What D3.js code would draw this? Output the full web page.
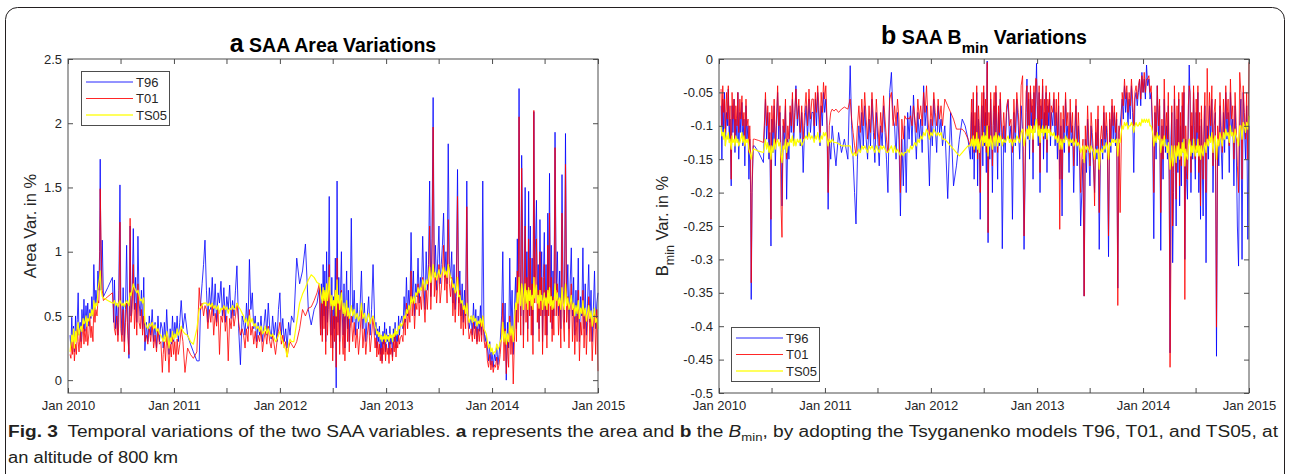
<!DOCTYPE html>
<html>
<head>
<meta charset="utf-8">
<script src="https://cdn.jsdelivr.net/npm/d3@7"></script>
<style>
  html, body { margin: 0; padding: 0; background: #fff; }
  svg { display: block; }
</style>
</head>
<body>
<script>
// DATA (days after 1 Jan 2010, one row of segments per line)

var days = [
  7,10,13,16,19,22,26,29,32,35,38,42,45,48,52,55,58,62,65,68,72,75,79,82,86,89,93,96,100,103,
  106,109,111,114,118,
  122,137,153,
  157,160,164,168,172,175,179,182,186,190,194,198,202,206,210,214,217,221,225,229,233,237,241,245,249,253,257,261,
  265,270,275,280,285,290,295,300,305,310,315,320,
  325,328,332,336,340,344,348,352,356,360,364,368,372,376,380,385,390,396,403,412,422,432,444,
  452,457,462,467,472,477,482,487,492,497,502,507,512,517,522,527,532,537,542,547,552,557,562,567,572,577,582,588,594,600,
  605,610,615,620,625,630,635,640,645,650,655,660,665,670,675,680,685,690,695,700,705,710,715,720,725,730,735,740,745,750,755,760,765,770,
  778,788,798,808,818,828,838,848,858,866,
  870,873,876,879,882,885,888,891,894,897,900,903,906,909,912,915,918,921,924,927,930,933,936,939,942,945,948,951,954,957,960,963,966,969,972,
  976,981,986,991,996,1001,1006,1011,1016,1021,1026,1031,1036,1041,1046,1051,
  1058,1061,1064,1067,1070,1073,1076,1079,1082,1085,1088,1091,1094,1097,1100,1103,1106,1109,1112,1115,1118,1121,1124,1127,1130,1133,1136,1139,1142,1145,
  1150,1154,1158,1162,1166,1170,1174,1178,1182,1186,1190,1194,1198,1202,1206,1210,1214,1218,1222,1226,1230,1234,1238,1242,1246,1250,1254,1258,1262,1266,1270,1274,1278,1282,1286,1290,1294,1298,1302,1306,1310,1314,
  1318,1322,1326,1330,1334,1338,1342,1346,1350,1354,1358,1362,1366,1370,1374,1378,1382,
  1389,1393,1397,1401,1405,1409,1413,1417,1421,1425,1429,1433,1437,1441,
  1445,1449,1453,1457,1461,1465,1469,1473,1477,1481,1485,1489,
  1494,1498,1502,1506,1510,1514,1518,1522,1526,1530,1534,1538,
  1542,1545,1548,1551,1554,1557,1560,1563,1566,1569,1572,1575,1578,1581,1584,1587,1590,1593,1596,1599,1602,1605,1608,1611,1614,1617,1620,1623,1626,1629,1632,1635,1638,1641,1644,1647,1650,1653,1656,1659,1662,1665,1668,1671,1674,
  1678,1682,1686,1690,1694,1698,1702,1706,1710,1714,1718,1722,1726,1730,1734,1738,1742,1746,1750,1754,1758,1762,1766,1770,1774,1778,1782,1786,1790,1794,1798,1802,1806,1810,1814,1818,1822,1826
];

var areaT96 = [
  0.35,0.25,0.49,0.3,0.42,0.22,0.5,0.3,0.47,0.68,0.35,0.45,0.3,0.55,0.4,0.63,0.38,0.58,0.45,0.6,0.42,0.55,0.48,0.65,0.5,0.9,0.55,0.7,0.6,0.85,
  0.7,1.0,1.72,0.7,1.09,
  0.65,0.72,0.8,
  0.45,0.78,0.4,0.6,0.35,0.7,1.52,0.6,0.35,0.72,0.3,0.55,1.05,0.45,0.17,1.2,0.5,0.65,1.18,0.55,0.8,0.45,1.12,0.6,0.5,0.7,0.4,0.8,
  0.23,0.45,0.3,0.5,0.35,0.55,0.3,0.45,0.25,0.5,0.3,0.45,
  0.4,0.25,0.45,0.3,0.55,0.35,0.2,0.4,0.28,0.5,0.3,0.45,0.35,0.5,0.3,0.45,0.62,0.4,0.52,0.35,0.28,0.22,0.15,
  0.15,0.6,0.75,0.9,1.09,0.7,0.45,0.72,0.55,0.8,0.5,0.75,0.45,0.68,0.6,0.77,0.5,0.72,0.45,0.65,0.55,0.74,0.48,0.62,0.5,0.7,0.89,0.4,0.12,0.5,
  0.45,0.35,0.6,0.4,0.94,0.55,0.68,0.4,0.5,0.3,0.45,0.35,0.5,0.3,0.42,0.55,0.35,0.6,0.4,0.32,0.5,0.35,0.45,0.3,0.55,0.68,0.35,0.48,0.3,0.4,0.25,0.45,0.35,0.5,
  0.45,0.95,0.75,0.85,1.06,0.55,0.43,0.55,0.6,0.72,
  0.4,0.75,0.35,0.9,0.5,0.85,0.3,1.0,0.45,0.7,1.43,0.55,0.35,0.8,0.25,0.65,0.4,0.95,-0.06,1.55,0.45,0.8,0.3,0.7,1.0,0.5,0.35,0.75,0.25,0.6,0.85,0.4,0.7,0.3,0.55,
  1.26,0.45,0.7,0.35,0.6,0.4,0.55,0.85,0.4,0.6,0.3,0.5,0.65,0.35,0.55,0.9,
  0.35,0.45,0.25,0.4,0.3,0.42,0.2,0.35,0.15,0.38,0.28,0.45,0.22,0.4,0.3,0.35,0.2,0.42,0.28,0.33,0.18,0.4,0.3,0.45,0.25,0.38,0.3,0.5,0.35,0.45,
  0.5,0.4,0.65,0.45,0.8,0.5,0.7,0.55,1.15,0.6,0.85,0.5,0.75,0.65,0.95,0.6,0.8,0.7,1.12,0.75,0.55,1.0,0.7,0.9,1.55,0.65,1.1,2.2,0.8,1.05,0.7,0.95,1.2,0.75,0.9,1.05,1.3,0.8,1.0,0.75,1.84,0.9,
  0.8,1.0,0.6,0.9,0.55,0.8,1.64,0.6,0.85,0.5,0.75,0.45,0.7,0.5,1.55,0.55,0.4,
  0.5,0.35,0.6,0.4,0.55,0.3,0.5,0.38,0.58,0.35,1.55,0.4,0.3,0.35,
  0.25,0.15,0.3,0.12,0.22,0.1,0.2,0.15,0.28,0.12,0.2,0.3,
  0.5,1.0,0.3,0.6,0.0,0.45,0.25,0.95,0.4,0.7,0.2,0.55,
  0.8,0.4,1.1,0.6,2.27,0.9,0.5,1.75,1.2,0.35,0.85,1.5,0.6,1.0,0.4,1.47,0.7,1.2,0.5,0.95,0.35,2.09,0.8,1.1,1.4,0.6,0.9,0.4,1.25,0.7,1.0,0.3,0.8,1.15,0.5,0.9,0.35,1.3,0.7,1.61,0.6,1.05,0.4,0.85,0.5,
  1.93,0.7,1.0,0.5,0.85,0.4,1.6,0.7,0.45,1.92,0.6,0.9,0.4,0.75,1.03,0.5,0.8,0.35,0.7,0.45,0.95,0.3,0.65,0.5,1.03,0.4,0.75,0.35,0.6,0.9,0.45,0.7,0.3,0.55,0.85,0.4,0.6,0.68
];

var areaT01 = [
  0.2,0.17,0.3,0.2,0.35,0.15,0.28,0.2,0.4,0.3,0.22,0.38,0.25,0.33,0.45,0.28,0.4,0.3,0.44,0.27,0.36,0.5,0.33,0.42,0.3,0.58,0.45,0.55,0.5,0.62,
  0.6,0.8,1.49,1.05,0.7,
  0.62,0.65,0.68,
  0.55,0.4,0.35,0.5,0.3,0.45,1.23,0.4,0.3,0.55,0.22,0.45,0.6,0.35,0.2,1.26,0.45,0.55,0.9,0.4,0.6,0.35,0.75,0.45,0.4,0.55,0.35,0.5,
  0.3,0.35,0.28,0.4,0.3,0.45,0.25,0.35,0.22,0.4,0.28,0.3,
  0.06,0.2,0.3,0.15,0.35,0.25,0.06,0.28,0.18,0.35,0.2,0.3,0.15,0.32,0.2,0.28,0.4,0.3,0.06,0.25,0.2,0.17,0.22,
  0.72,0.55,0.6,0.5,0.58,0.55,0.4,0.55,0.45,0.6,0.35,0.52,0.42,0.55,0.2,0.5,0.45,0.58,0.38,0.5,0.15,0.48,0.4,0.55,0.42,0.5,0.6,0.45,0.35,0.4,
  0.35,0.25,0.4,0.3,0.55,0.35,0.42,0.28,0.38,0.25,0.35,0.3,0.4,0.22,0.32,0.38,0.28,0.42,0.3,0.25,0.35,0.28,0.2,0.3,0.38,0.45,0.28,0.35,0.25,0.3,0.18,0.25,0.3,0.28,
  0.25,0.3,0.4,0.55,0.5,0.56,0.57,0.62,0.68,0.75,
  0.35,0.6,0.3,0.7,0.4,0.65,0.2,0.75,0.35,0.55,0.9,0.45,0.25,0.6,0.15,0.5,0.3,0.7,0.1,0.95,0.35,0.6,0.2,0.5,0.7,0.35,0.2,0.55,0.15,0.45,0.6,0.3,0.5,0.22,0.4,
  0.5,0.3,0.45,0.25,0.4,0.2,0.35,0.55,0.25,0.4,0.2,0.35,0.45,0.22,0.35,0.5,
  0.25,0.33,0.18,0.3,0.2,0.28,0.15,0.25,0.13,0.3,0.2,0.32,0.15,0.28,0.2,0.25,0.13,0.3,0.2,0.25,0.15,0.3,0.22,0.35,0.18,0.3,0.25,0.35,0.28,0.33,
  0.35,0.3,0.5,0.35,0.6,0.4,0.55,0.45,0.85,0.5,0.65,0.4,0.6,0.55,0.75,0.5,0.65,0.55,0.8,0.6,0.45,0.7,0.55,0.75,1.2,0.55,0.85,1.97,0.65,0.8,0.6,0.75,0.9,0.6,0.7,0.85,1.05,0.7,0.85,0.6,1.25,0.75,
  0.65,0.8,0.5,0.7,0.45,0.65,1.43,0.5,0.7,0.4,0.6,0.35,0.55,0.4,1.35,0.45,0.32,
  0.4,0.3,0.45,0.32,0.42,0.28,0.4,0.3,0.45,0.3,0.5,0.32,0.25,0.3,
  0.15,0.1,0.2,0.08,0.15,0.06,0.12,0.1,0.18,0.08,0.12,0.2,
  0.35,0.6,0.15,0.4,0.05,0.3,0.1,0.5,0.2,0.4,-0.03,0.3,
  0.6,0.3,0.85,0.45,2.05,0.7,0.35,1.65,0.95,0.25,0.65,1.2,0.45,0.8,0.3,1.1,0.5,0.95,0.35,0.75,0.2,2.1,0.6,0.85,1.1,0.45,0.7,0.3,1.0,0.5,0.8,0.2,0.6,0.9,0.35,0.7,0.25,1.05,0.5,1.3,0.45,0.8,0.3,0.65,0.35,
  1.81,0.5,0.75,0.35,0.6,0.25,1.3,0.5,0.3,1.68,0.45,0.65,0.25,0.55,0.75,0.3,0.6,0.2,0.5,0.3,0.7,0.15,0.45,0.35,0.7,0.25,0.55,0.2,0.45,0.65,0.3,0.5,0.15,0.4,0.55,0.2,0.55,0.07
];

var areaTS05 = [
  0.22,0.28,0.35,0.3,0.4,0.25,0.38,0.3,0.42,0.45,0.35,0.4,0.42,0.38,0.48,0.44,0.45,0.5,0.42,0.48,0.46,0.52,0.5,0.55,0.5,0.62,0.55,0.6,0.58,0.7,
  0.75,0.8,0.85,0.7,0.65,
  0.64,0.62,0.6,
  0.6,0.62,0.58,0.6,0.57,0.6,0.62,0.6,0.58,0.6,0.57,0.6,0.62,0.6,0.58,0.68,0.66,0.7,0.75,0.72,0.7,0.68,0.7,0.66,0.62,0.63,0.6,0.64,
  0.45,0.42,0.4,0.44,0.42,0.45,0.4,0.43,0.38,0.4,0.36,0.35,
  0.32,0.3,0.35,0.3,0.38,0.34,0.25,0.33,0.3,0.38,0.32,0.36,0.33,0.4,0.35,0.38,0.42,0.38,0.36,0.35,0.3,0.28,0.4,
  0.55,0.57,0.58,0.6,0.6,0.6,0.58,0.6,0.57,0.6,0.56,0.58,0.55,0.58,0.52,0.56,0.55,0.58,0.55,0.57,0.52,0.56,0.55,0.58,0.55,0.56,0.6,0.57,0.55,0.52,
  0.5,0.45,0.48,0.42,0.5,0.45,0.48,0.42,0.44,0.4,0.42,0.38,0.42,0.36,0.38,0.42,0.36,0.4,0.36,0.34,0.36,0.33,0.3,0.32,0.35,0.38,0.32,0.3,0.26,0.24,0.18,0.28,0.32,0.3,
  0.3,0.45,0.6,0.67,0.72,0.78,0.82,0.8,0.76,0.75,
  0.7,0.65,0.6,0.72,0.62,0.7,0.58,0.75,0.62,0.68,0.8,0.65,0.58,0.66,0.55,0.62,0.58,0.7,0.5,0.78,0.6,0.66,0.55,0.62,0.68,0.58,0.52,0.6,0.5,0.55,0.62,0.5,0.56,0.48,0.52,
  0.58,0.5,0.55,0.48,0.52,0.46,0.5,0.6,0.48,0.52,0.45,0.48,0.52,0.44,0.48,0.5,
  0.42,0.4,0.36,0.38,0.34,0.37,0.32,0.35,0.3,0.34,0.32,0.36,0.3,0.35,0.32,0.34,0.3,0.36,0.33,0.35,0.3,0.36,0.34,0.4,0.35,0.38,0.36,0.42,0.4,0.44,
  0.42,0.45,0.5,0.48,0.55,0.52,0.58,0.55,0.65,0.6,0.65,0.6,0.68,0.66,0.72,0.68,0.72,0.7,0.78,0.75,0.7,0.78,0.75,0.8,0.88,0.76,0.82,0.9,0.8,0.84,0.78,0.82,0.86,0.8,0.82,0.85,0.88,0.82,0.85,0.8,0.9,0.85,
  0.8,0.78,0.72,0.75,0.68,0.7,0.8,0.65,0.66,0.6,0.62,0.55,0.58,0.52,0.6,0.5,0.45,
  0.5,0.45,0.5,0.46,0.48,0.42,0.46,0.44,0.48,0.42,0.5,0.4,0.38,0.36,
  0.3,0.25,0.28,0.22,0.25,0.2,0.22,0.22,0.28,0.24,0.26,0.3,
  0.32,0.45,0.3,0.38,0.28,0.36,0.3,0.45,0.35,0.42,0.3,0.45,
  0.6,0.55,0.68,0.6,0.8,0.66,0.58,0.75,0.7,0.55,0.65,0.75,0.6,0.7,0.55,0.72,0.62,0.7,0.58,0.66,0.55,0.8,0.64,0.7,0.74,0.6,0.66,0.56,0.7,0.62,0.66,0.55,0.62,0.68,0.58,0.64,0.55,0.7,0.6,0.72,0.58,0.65,0.55,0.62,0.56,
  0.75,0.62,0.68,0.58,0.64,0.55,0.72,0.6,0.55,0.75,0.58,0.64,0.55,0.6,0.66,0.55,0.6,0.5,0.58,0.52,0.62,0.48,0.56,0.52,0.62,0.5,0.56,0.46,0.52,0.58,0.48,0.54,0.42,0.5,0.56,0.45,0.48,0.4
];

var bminT96 = [
  -0.07,-0.15,-0.06,-0.11,-0.05,-0.13,-0.08,-0.1,-0.045,-0.12,-0.09,-0.19,-0.07,-0.11,-0.06,-0.14,-0.09,-0.12,-0.05,-0.15,-0.08,-0.11,-0.065,-0.13,-0.09,-0.16,-0.07,-0.12,-0.1,-0.18,
  -0.12,-0.2,-0.36,-0.2,-0.13,
  -0.13,-0.14,-0.155,
  -0.1,-0.06,-0.12,-0.08,-0.15,-0.11,-0.28,-0.09,-0.14,-0.07,-0.16,-0.1,-0.05,-0.12,-0.08,-0.14,-0.22,-0.1,-0.13,-0.07,-0.21,-0.12,-0.15,-0.08,-0.11,-0.06,-0.13,-0.09,
  -0.04,-0.1,-0.07,-0.13,-0.08,-0.17,-0.1,-0.07,-0.12,-0.06,-0.11,-0.08,
  -0.08,-0.12,-0.06,-0.1,-0.05,-0.09,-0.13,-0.07,-0.1,-0.05,-0.08,-0.06,-0.1,-0.225,-0.12,-0.15,-0.1,-0.13,-0.16,-0.11,-0.14,-0.12,-0.15,
  -0.01,-0.1,-0.15,-0.2,-0.247,-0.15,-0.1,-0.14,-0.08,-0.13,-0.07,-0.12,-0.15,-0.09,-0.13,-0.06,-0.11,-0.155,-0.08,-0.12,-0.16,-0.1,-0.13,-0.07,-0.11,-0.15,-0.2,-0.05,-0.02,-0.09,
  -0.1,-0.15,-0.08,-0.12,-0.235,-0.12,-0.19,-0.1,-0.2,-0.08,-0.12,-0.07,-0.13,-0.054,-0.1,-0.15,-0.08,-0.12,-0.09,-0.14,-0.04,-0.1,-0.07,-0.12,-0.19,-0.09,-0.13,-0.06,-0.1,-0.14,-0.07,-0.11,-0.09,-0.13,
  -0.1,-0.209,-0.08,-0.19,-0.16,-0.12,-0.09,-0.1,-0.12,-0.15,
  -0.08,-0.15,-0.06,-0.18,-0.1,-0.14,-0.05,-0.19,-0.09,-0.12,-0.24,-0.11,-0.07,-0.16,-0.05,-0.13,-0.08,-0.17,-0.003,-0.275,-0.1,-0.15,-0.06,-0.12,-0.2,-0.1,-0.07,-0.14,-0.05,-0.11,-0.18,-0.08,-0.13,-0.06,-0.11,
  -0.284,-0.1,-0.14,-0.08,-0.062,-0.12,-0.1,-0.24,-0.08,-0.13,-0.06,-0.1,-0.15,-0.07,-0.11,-0.285,
  -0.08,-0.03,-0.12,-0.06,-0.15,-0.05,-0.1,-0.07,-0.18,-0.05,-0.11,-0.06,-0.0065,-0.09,-0.13,-0.05,-0.2,-0.07,-0.11,-0.04,-0.15,-0.08,-0.12,-0.05,-0.17,-0.07,-0.1,-0.06,-0.13,-0.08,
  -0.1,-0.06,-0.13,-0.08,-0.15,-0.07,-0.18,-0.1,-0.235,-0.09,-0.14,-0.06,-0.12,-0.1,-0.17,-0.08,-0.13,-0.1,-0.2,-0.12,-0.07,-0.16,-0.1,-0.14,-0.25,-0.2,-0.15,-0.355,-0.12,-0.17,-0.09,-0.14,-0.19,-0.1,-0.13,-0.16,-0.2,-0.11,-0.15,-0.09,-0.285,-0.14,
  -0.12,-0.15,-0.08,-0.14,-0.1,-0.13,-0.296,-0.09,-0.14,-0.07,-0.12,-0.08,-0.13,-0.09,-0.343,-0.11,-0.1,
  -0.06,-0.09,-0.04,-0.08,-0.05,-0.1,-0.06,-0.09,-0.04,-0.08,-0.17,-0.06,-0.05,-0.07,
  -0.05,-0.03,-0.07,-0.02,-0.05,-0.03,-0.06,-0.009,-0.04,-0.03,-0.06,-0.05,
  -0.12,-0.269,-0.08,-0.15,-0.04,-0.12,-0.07,-0.2865,-0.1,-0.18,-0.06,-0.14,
  -0.1,-0.15,-0.07,-0.18,-0.44,-0.12,-0.08,-0.305,-0.2,-0.06,-0.13,-0.25,-0.09,-0.17,-0.06,-0.22,-0.1,-0.19,-0.07,-0.14,-0.05,-0.3,-0.12,-0.18,-0.21,-0.09,-0.009,-0.06,-0.2,-0.1,-0.15,-0.05,-0.12,-0.18,-0.08,-0.14,-0.05,-0.2,-0.1,-0.24,-0.09,-0.16,-0.235,-0.12,-0.07,
  -0.305,-0.1,-0.15,-0.07,-0.12,-0.06,-0.2,-0.1,-0.08,-0.445,-0.12,-0.16,-0.07,-0.13,-0.18,-0.08,-0.14,-0.05,-0.12,-0.08,-0.17,-0.05,-0.11,-0.09,-0.19,-0.07,-0.13,-0.25,-0.31,-0.1,-0.06,-0.3,-0.05,-0.1,-0.15,-0.07,-0.27,-0.1
];

var bminT01 = [
  -0.045,-0.1,-0.04,-0.08,-0.06,-0.11,-0.05,-0.09,-0.04,-0.1,-0.07,-0.18,-0.05,-0.09,-0.06,-0.12,-0.07,-0.1,-0.05,-0.11,-0.06,-0.09,-0.055,-0.1,-0.08,-0.13,-0.06,-0.1,-0.09,-0.14,
  -0.1,-0.15,-0.335,-0.19,-0.12,
  -0.12,-0.122,-0.125,
  -0.09,-0.05,-0.1,-0.07,-0.12,-0.08,-0.24,-0.07,-0.11,-0.06,-0.13,-0.09,-0.04,-0.1,-0.07,-0.225,-0.267,-0.09,-0.11,-0.06,-0.15,-0.1,-0.12,-0.07,-0.1,-0.05,-0.11,-0.08,
  -0.045,-0.09,-0.06,-0.11,-0.07,-0.12,-0.08,-0.05,-0.1,-0.045,-0.09,-0.06,
  -0.06,-0.1,-0.05,-0.08,-0.04,-0.07,-0.11,-0.05,-0.08,-0.035,-0.06,-0.04,-0.09,-0.2,-0.1,-0.08,-0.075,-0.078,-0.075,-0.08,-0.075,-0.072,-0.075,
  -0.06,-0.09,-0.11,-0.13,-0.145,-0.1,-0.07,-0.11,-0.06,-0.1,-0.05,-0.09,-0.12,-0.07,-0.11,-0.05,-0.09,-0.12,-0.06,-0.1,-0.13,-0.08,-0.11,-0.055,-0.09,-0.12,-0.14,-0.06,-0.05,-0.1,
  -0.07,-0.1,-0.06,-0.09,-0.2,-0.09,-0.12,-0.085,-0.09,-0.088,-0.09,-0.085,-0.1,-0.07,-0.09,-0.11,-0.06,-0.09,-0.07,-0.1,-0.05,-0.08,-0.04,-0.09,-0.12,-0.07,-0.1,-0.05,-0.08,-0.1,-0.06,-0.09,-0.07,-0.1,
  -0.06,-0.07,-0.08,-0.09,-0.105,-0.105,-0.105,-0.11,-0.12,-0.13,
  -0.06,-0.12,-0.05,-0.14,-0.08,-0.12,-0.04,-0.15,-0.07,-0.1,-0.2,-0.09,-0.05,-0.13,-0.04,-0.1,-0.06,-0.14,-0.005,-0.26,-0.08,-0.12,-0.05,-0.1,-0.16,-0.08,-0.05,-0.12,-0.04,-0.09,-0.14,-0.07,-0.11,-0.05,-0.09,
  -0.12,-0.08,-0.12,-0.07,-0.06,-0.1,-0.09,-0.14,-0.06,-0.11,-0.05,-0.08,-0.12,-0.04,-0.025,-0.265,
  -0.05,-0.04,-0.1,-0.05,-0.12,-0.04,-0.08,-0.06,-0.14,-0.04,-0.09,-0.029,-0.03,-0.07,-0.11,-0.04,-0.17,-0.06,-0.09,-0.03,-0.12,-0.06,-0.1,-0.04,-0.14,-0.06,-0.08,-0.05,-0.11,-0.07,
  -0.08,-0.05,-0.1,-0.06,-0.12,-0.05,-0.255,-0.08,-0.18,-0.07,-0.11,-0.05,-0.1,-0.08,-0.14,-0.06,-0.11,-0.08,-0.16,-0.1,-0.06,-0.13,-0.08,-0.12,-0.2,-0.15,-0.12,-0.355,-0.1,-0.14,-0.07,-0.12,-0.16,-0.08,-0.11,-0.14,-0.22,-0.09,-0.13,-0.07,-0.23,-0.12,
  -0.1,-0.13,-0.07,-0.12,-0.08,-0.11,-0.265,-0.08,-0.12,-0.06,-0.1,-0.07,-0.11,-0.08,-0.369,-0.1,-0.23,
  -0.05,-0.07,-0.03,-0.06,-0.04,-0.08,-0.05,-0.07,-0.03,-0.06,-0.1,-0.05,-0.04,-0.06,
  -0.04,-0.03,-0.06,-0.025,-0.05,-0.02,-0.05,-0.03,-0.03,-0.025,-0.05,-0.04,
  -0.1,-0.2,-0.07,-0.12,-0.04,-0.1,-0.06,-0.23,-0.09,-0.15,-0.03,-0.12,
  -0.08,-0.12,-0.05,-0.15,-0.4615,-0.295,-0.07,-0.25,-0.17,-0.04,-0.1,-0.21,-0.07,-0.14,-0.05,-0.19,-0.08,-0.16,-0.05,-0.12,-0.04,-0.36,-0.1,-0.15,-0.18,-0.07,-0.04,-0.05,-0.17,-0.08,-0.12,-0.04,-0.1,-0.15,-0.06,-0.11,-0.04,-0.17,-0.08,-0.22,-0.07,-0.13,-0.18,-0.09,-0.05,
  -0.2,-0.014,-0.12,-0.05,-0.1,-0.04,-0.16,-0.08,-0.06,-0.4015,-0.1,-0.13,-0.05,-0.1,-0.14,-0.06,-0.11,-0.04,-0.09,-0.06,-0.13,-0.03,-0.09,-0.07,-0.15,-0.05,-0.1,-0.16,-0.2,-0.02,-0.05,-0.18,-0.04,-0.08,-0.12,-0.05,-0.15,-0.005
];

var bminTS05 = [
  -0.1,-0.115,-0.11,-0.12,-0.105,-0.13,-0.115,-0.12,-0.11,-0.125,-0.12,-0.135,-0.115,-0.125,-0.12,-0.13,-0.115,-0.125,-0.12,-0.13,-0.125,-0.12,-0.11,-0.125,-0.115,-0.13,-0.12,-0.125,-0.12,-0.135,
  -0.14,-0.145,-0.15,-0.14,-0.135,
  -0.135,-0.138,-0.14,
  -0.13,-0.12,-0.135,-0.125,-0.14,-0.13,-0.15,-0.13,-0.14,-0.12,-0.135,-0.125,-0.12,-0.13,-0.125,-0.145,-0.155,-0.13,-0.135,-0.12,-0.14,-0.125,-0.13,-0.12,-0.125,-0.115,-0.13,-0.12,
  -0.13,-0.12,-0.125,-0.12,-0.13,-0.125,-0.12,-0.115,-0.12,-0.11,-0.12,-0.115,
  -0.12,-0.125,-0.115,-0.12,-0.11,-0.12,-0.125,-0.115,-0.12,-0.11,-0.115,-0.11,-0.12,-0.13,-0.12,-0.125,-0.12,-0.125,-0.125,-0.127,-0.13,-0.13,-0.13,
  -0.13,-0.14,-0.145,-0.14,-0.145,-0.14,-0.135,-0.14,-0.13,-0.135,-0.13,-0.135,-0.14,-0.13,-0.135,-0.13,-0.135,-0.14,-0.13,-0.135,-0.14,-0.13,-0.135,-0.13,-0.135,-0.14,-0.14,-0.135,-0.13,-0.14,
  -0.13,-0.14,-0.135,-0.14,-0.145,-0.14,-0.145,-0.14,-0.14,-0.135,-0.14,-0.13,-0.135,-0.13,-0.125,-0.13,-0.12,-0.125,-0.115,-0.12,-0.11,-0.115,-0.105,-0.11,-0.12,-0.11,-0.115,-0.105,-0.11,-0.115,-0.11,-0.115,-0.11,-0.12,
  -0.12,-0.125,-0.13,-0.135,-0.14,-0.145,-0.14,-0.135,-0.13,-0.13,
  -0.12,-0.13,-0.115,-0.135,-0.12,-0.13,-0.11,-0.135,-0.12,-0.14,-0.125,-0.12,-0.115,-0.13,-0.11,-0.125,-0.115,-0.13,-0.1,-0.145,-0.12,-0.13,-0.115,-0.125,-0.135,-0.12,-0.115,-0.13,-0.11,-0.12,-0.13,-0.115,-0.125,-0.115,-0.12,
  -0.13,-0.12,-0.125,-0.12,-0.115,-0.125,-0.12,-0.13,-0.12,-0.125,-0.115,-0.12,-0.125,-0.11,-0.105,-0.13,
  -0.11,-0.105,-0.115,-0.1,-0.12,-0.1,-0.11,-0.105,-0.12,-0.1,-0.11,-0.095,-0.09,-0.105,-0.115,-0.1,-0.125,-0.105,-0.11,-0.1,-0.115,-0.105,-0.11,-0.1,-0.12,-0.105,-0.11,-0.105,-0.115,-0.11,
  -0.115,-0.11,-0.12,-0.115,-0.125,-0.115,-0.135,-0.12,-0.135,-0.12,-0.125,-0.115,-0.12,-0.12,-0.13,-0.12,-0.125,-0.12,-0.13,-0.125,-0.12,-0.13,-0.125,-0.13,-0.14,-0.135,-0.13,-0.155,-0.13,-0.135,-0.13,-0.135,-0.14,-0.13,-0.135,-0.14,-0.15,-0.135,-0.14,-0.135,-0.165,-0.14,
  -0.135,-0.14,-0.13,-0.135,-0.125,-0.13,-0.15,-0.125,-0.13,-0.12,-0.125,-0.12,-0.125,-0.12,-0.145,-0.12,-0.125,
  -0.1,-0.105,-0.095,-0.1,-0.095,-0.105,-0.1,-0.1,-0.095,-0.1,-0.11,-0.1,-0.095,-0.1,
  -0.1,-0.095,-0.1,-0.09,-0.095,-0.09,-0.095,-0.09,-0.095,-0.09,-0.1,-0.1,
  -0.11,-0.13,-0.115,-0.125,-0.11,-0.12,-0.115,-0.14,-0.12,-0.13,-0.115,-0.13,
  -0.13,-0.14,-0.125,-0.145,-0.165,-0.15,-0.13,-0.16,-0.15,-0.13,-0.14,-0.155,-0.13,-0.145,-0.125,-0.15,-0.135,-0.145,-0.125,-0.14,-0.12,-0.16,-0.135,-0.145,-0.15,-0.13,-0.12,-0.125,-0.145,-0.13,-0.14,-0.12,-0.135,-0.145,-0.13,-0.14,-0.12,-0.145,-0.13,-0.15,-0.13,-0.14,-0.145,-0.13,-0.125,
  -0.14,-0.12,-0.13,-0.115,-0.125,-0.11,-0.14,-0.12,-0.115,-0.15,-0.12,-0.13,-0.11,-0.12,-0.13,-0.11,-0.12,-0.105,-0.115,-0.11,-0.125,-0.1,-0.115,-0.11,-0.125,-0.105,-0.115,-0.12,-0.13,-0.1,-0.1,-0.12,-0.095,-0.1,-0.11,-0.095,-0.105,-0.085
];

var seriesNames = ["T96", "T01", "TS05"];
var seriesColors = ["#0000ff", "#ff0000", "#ffff00"];
var areaTicks = [0, 0.5, 1, 1.5, 2, 2.5];
var bminTicks = [-0.5, -0.45, -0.4, -0.35, -0.3, -0.25, -0.2, -0.15, -0.1, -0.05, 0];

// CHART STRUCTURE

var svgWidth = 1290;
var svgHeight = 474;
var font = "'Liberation Sans', Arial, Helvetica, sans-serif";
var axisColor = "#4d4d4d";

var svg = d3.select("body")
  .append("svg")
  .attr("width", svgWidth)
  .attr("height", svgHeight)
  .style("background", "#fff");

// figure frame with rounded top corners
svg.append("rect")
  .attr("x", 5.5).attr("y", 7.5)
  .attr("width", 1279).attr("height", 490)
  .attr("rx", 12).attr("ry", 12)
  .attr("fill", "none")
  .attr("stroke", "#231f20")
  .attr("stroke-width", 1);

var startDate = new Date(2010, 0, 1);
var endDate = new Date(2015, 0, 1);
var dates = days.map(function(d) { return d3.timeDay.offset(startDate, d); });

[areaT96, areaT01, areaTS05, bminT96, bminT01, bminTS05].forEach(function(a, i) {
  if (a.length !== days.length) console.error("series " + i + " has " + a.length + " values, expected " + days.length);
});

var panels = [
  {
    left: 68, right: 598, top: 59, bottom: 393,
    domain: [-0.1, 2.5],
    ticks: areaTicks,
    series: [areaT96, areaT01, areaTS05],
    legend: {x: 81, y: 71},
    titleY: 52,
    subscript: false,
    letter: "a",
    title: " SAA Area Variations",
    ylabelX: 36
  },
  {
    left: 719, right: 1249, top: 59, bottom: 393,
    domain: [-0.5, 0],
    ticks: bminTicks,
    series: [bminT96, bminT01, bminTS05],
    legend: {x: 731, y: 327},
    titleY: 44,
    subscript: true,
    letter: "b",
    title: " SAA B",
    ylabelX: 668
  }
];

panels.forEach(function(p) {

  var g = svg.append("g");

  // SCALES

  var xScale = d3.scaleTime().domain([startDate, endDate]).range([p.left, p.right]);
  var yScale = d3.scaleLinear().domain(p.domain).range([p.bottom, p.top]);

  // LINES

  var line = d3.line()
    .x(function(d) { return xScale(d.date); })
    .y(function(d) { return yScale(d.value); });

  g.selectAll("path.series")
    .data(p.series)
    .enter()
    .append("path")
    .attr("class", "series")
    .attr("d", function(s) {
      return line(s.map(function(v, i) { return {date: dates[i], value: v}; }));
    })
    .attr("fill", "none")
    .attr("stroke", function(s, i) { return seriesColors[i]; })
    .attr("stroke-width", function(s, i) { return i === 2 ? 1.2 : 1; })
    .attr("stroke-opacity", function(s, i) { return i === 2 ? 1 : 0.8; })
    .attr("stroke-linejoin", "round");

  // AXES

  var xTicks = d3.timeMonth.every(6).range(startDate, d3.timeDay.offset(endDate, 1));

  var xAxis = d3.axisBottom(xScale)
    .tickValues(xTicks)
    .tickSize(-5)
    .tickPadding(8)
    .tickFormat(function(d) { return d.getMonth() === 0 ? "Jan " + d.getFullYear() : ""; });

  var xTop = d3.axisTop(xScale).tickValues(xTicks).tickSize(-5).tickFormat("");
  var yAxis = d3.axisLeft(yScale).tickValues(p.ticks).tickSize(-5).tickPadding(6)
    .tickFormat(function(d) { return String(d); });
  var yRight = d3.axisRight(yScale).tickValues(p.ticks).tickSize(-5).tickFormat("");

  var axes = [
    g.append("g").attr("transform", "translate(0," + p.bottom + ")").call(xAxis),
    g.append("g").attr("transform", "translate(0," + p.top + ")").call(xTop),
    g.append("g").attr("transform", "translate(" + p.left + ",0)").call(yAxis),
    g.append("g").attr("transform", "translate(" + p.right + ",0)").call(yRight)
  ];

  axes.forEach(function(a) {
    a.select(".domain").remove();
    a.selectAll(".tick line").attr("stroke", axisColor);
    a.selectAll(".tick text")
      .attr("font-family", font)
      .attr("font-size", 13)
      .attr("fill", "#262626");
  });

  g.append("rect")
    .attr("x", p.left).attr("y", p.top)
    .attr("width", p.right - p.left).attr("height", p.bottom - p.top)
    .attr("fill", "none")
    .attr("stroke", axisColor)
    .attr("stroke-width", 1);

  // TITLE

  var cx = (p.left + p.right) / 2;
  var title = g.append("text")
    .attr("x", cx).attr("y", p.titleY)
    .attr("text-anchor", "middle")
    .attr("font-family", font)
    .attr("font-weight", "bold")
    .attr("fill", "#000");
  title.append("tspan").attr("font-size", 25).text(p.letter);
  title.append("tspan").attr("font-size", 19.5).text(p.title);
  if (p.subscript) {
    title.append("tspan").attr("font-size", 15).attr("dy", 9).text("min");
    title.append("tspan").attr("font-size", 19.5).attr("dy", -9).text(" Variations");
  }

  // Y LABEL

  var ylab = g.append("text")
    .attr("transform", "translate(" + p.ylabelX + "," + ((p.top + p.bottom) / 2) + ") rotate(-90)")
    .attr("text-anchor", "middle")
    .attr("font-family", font)
    .attr("font-size", 16.5)
    .attr("fill", "#262626");
  if (p.subscript) {
    ylab.append("tspan").text("B");
    ylab.append("tspan").attr("font-size", 12.5).attr("dy", 6).text("min");
    ylab.append("tspan").attr("dy", -6).text(" Var. in %");
  } else {
    ylab.text("Area Var. in %");
  }

  // LEGEND

  var lg = g.append("g").attr("transform", "translate(" + p.legend.x + "," + p.legend.y + ")");
  lg.append("rect")
    .attr("x", 0.5).attr("y", 0.5)
    .attr("width", 88).attr("height", 54)
    .attr("fill", "#fff")
    .attr("stroke", axisColor);
  var entries = lg.selectAll("g.entry")
    .data(seriesNames)
    .enter()
    .append("g")
    .attr("class", "entry")
    .attr("transform", function(d, i) { return "translate(0," + (11 + i * 16.5) + ")"; });
  entries.append("line")
    .attr("x1", 5).attr("x2", 52)
    .attr("stroke", function(d, i) { return seriesColors[i]; })
    .attr("stroke-width", function(d, i) { return i === 2 ? 1.3 : 1; })
    .attr("stroke-opacity", 0.85);
  entries.append("text")
    .attr("x", 55).attr("y", 4.5)
    .attr("font-family", font)
    .attr("font-size", 13)
    .attr("fill", "#262626")
    .text(function(d) { return d; });
});

// CAPTION

var cap = svg.append("text")
  .attr("x", 8).attr("y", 437)
  .attr("font-family", font)
  .attr("font-size", 16)
  .attr("fill", "#231f20")
  .attr("textLength", 1270)
  .attr("lengthAdjust", "spacingAndGlyphs");
cap.append("tspan").attr("font-weight", "bold").text("Fig. 3");
cap.append("tspan").text("\u2002Temporal variations of the two SAA variables. ");
cap.append("tspan").attr("font-weight", "bold").text("a");
cap.append("tspan").text(" represents the area and ");
cap.append("tspan").attr("font-weight", "bold").text("b");
cap.append("tspan").text(" the ");
cap.append("tspan").attr("font-style", "italic").text("B");
cap.append("tspan").attr("font-size", 11).attr("dy", 4).text("min");
cap.append("tspan").attr("dy", -4).text(", by adopting the Tsyganenko models T96, T01, and TS05, at");

svg.append("text")
  .attr("x", 8).attr("y", 463)
  .attr("font-family", font)
  .attr("font-size", 16)
  .attr("fill", "#231f20")
  .attr("textLength", 170)
  .attr("lengthAdjust", "spacingAndGlyphs")
  .text("an altitude of 800 km");
</script>
</body>
</html>
